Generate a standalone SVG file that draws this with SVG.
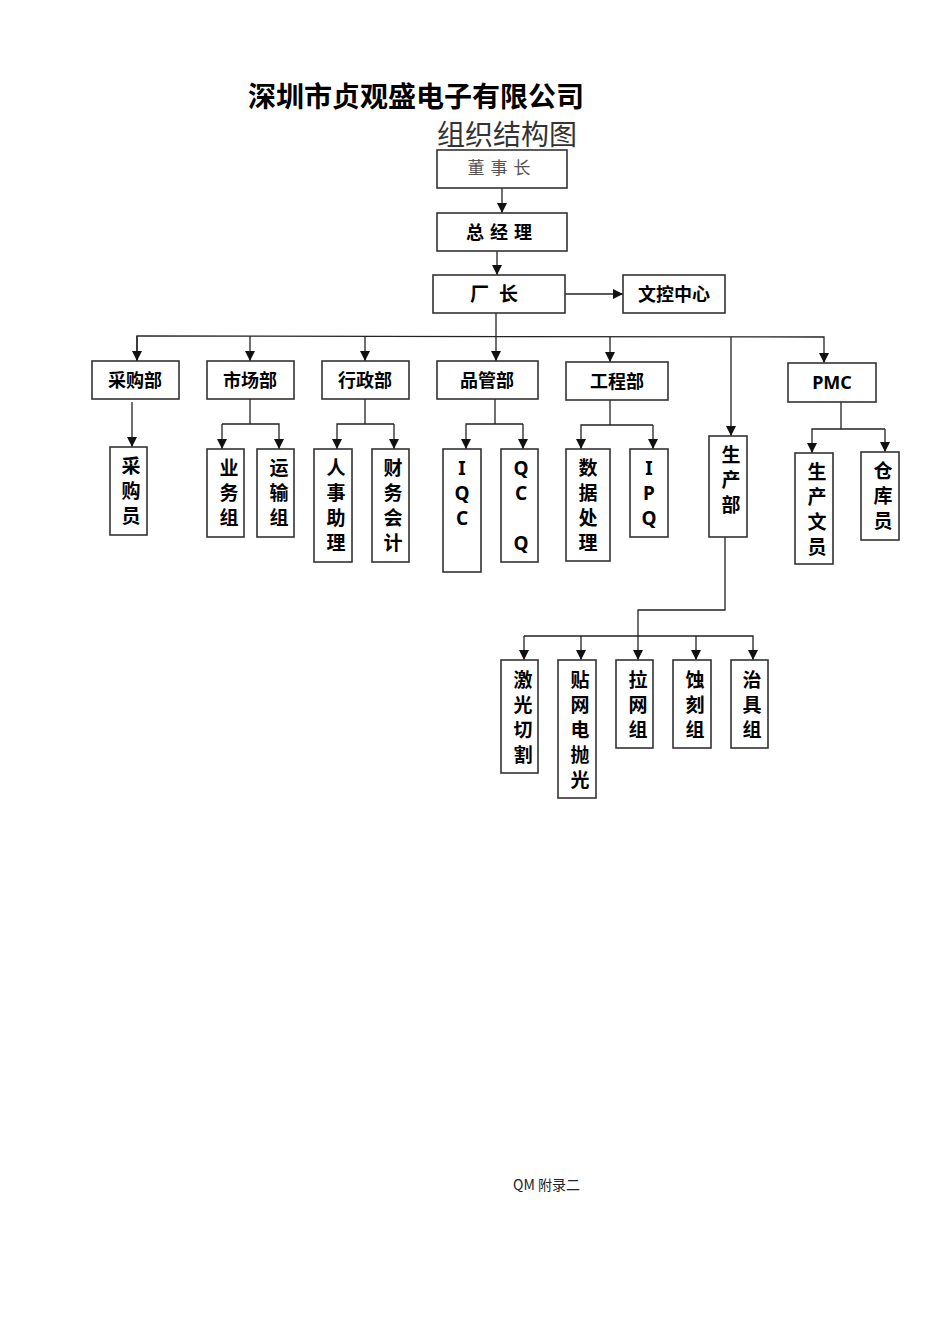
<svg xmlns="http://www.w3.org/2000/svg" width="950" height="1344" viewBox="0 0 950 1344">
<style>
rect{fill:#fff;stroke:#333;stroke-width:1.6}
.c line,.c polyline{stroke:#222;stroke-width:1.3;fill:none}
text{font-family:"Noto Sans CJK SC","Liberation Sans",sans-serif;font-weight:bold;fill:#000}
.h{font-size:18px;text-anchor:middle}
.v{font-size:19px;text-anchor:middle}
</style>
<defs><marker id="a" markerWidth="10" markerHeight="10" refX="10" refY="5" orient="auto" markerUnits="userSpaceOnUse" viewBox="0 0 10 10"><path d="M0,0L10,5L0,10z" fill="#111"/></marker></defs>
<text x="248" y="107" style="font-size:28px">深圳市贞观盛电子有限公司</text>
<text x="437" y="145" style="font-size:28px;font-weight:normal;font-family:'Noto Sans CJK SC',serif;fill:#333">组织结构图</text>
<g class="c">
<line x1="502" y1="188" x2="502" y2="213" marker-end="url(#a)"/>
<line x1="497" y1="251" x2="497" y2="275" marker-end="url(#a)"/>
<line x1="565" y1="294" x2="623" y2="294" marker-end="url(#a)"/>
<line x1="496" y1="313" x2="496" y2="361" marker-end="url(#a)"/>
<polyline points="137,361 137,336 824,337 824,363" marker-end="url(#a)"/>
<line x1="137" y1="336" x2="137" y2="361" marker-end="url(#a)"/>
<line x1="250" y1="336" x2="250" y2="361" marker-end="url(#a)"/>
<line x1="365" y1="336" x2="365" y2="361" marker-end="url(#a)"/>
<line x1="610" y1="337" x2="610" y2="362" marker-end="url(#a)"/>
<line x1="731" y1="337" x2="731" y2="436" marker-end="url(#a)"/>
<line x1="132" y1="402" x2="132" y2="447" marker-end="url(#a)"/>
<line x1="250" y1="399" x2="250" y2="424"/><polyline points="222,424 279,424 279,449" marker-end="url(#a)"/><line x1="222" y1="424" x2="222" y2="449" marker-end="url(#a)"/>
<line x1="365" y1="399" x2="365" y2="424"/><polyline points="394,424 337,424 337,449" marker-end="url(#a)"/><line x1="394" y1="424" x2="394" y2="449" marker-end="url(#a)"/>
<line x1="495" y1="399" x2="495" y2="424"/><polyline points="523,424 466,424 466,449" marker-end="url(#a)"/><line x1="523" y1="424" x2="523" y2="449" marker-end="url(#a)"/>
<line x1="610" y1="400" x2="610" y2="425"/><polyline points="653,425 581,425 581,449" marker-end="url(#a)"/><line x1="653" y1="425" x2="653" y2="449" marker-end="url(#a)"/>
<line x1="841" y1="402" x2="841" y2="429"/><polyline points="885,429 812,429 812,453" marker-end="url(#a)"/><line x1="885" y1="429" x2="885" y2="452" marker-end="url(#a)"/>
<polyline points="725,537 725,610 638,610 638,660" marker-end="url(#a)"/>
<polyline points="524,636 753,636 753,660" marker-end="url(#a)"/><line x1="524" y1="636" x2="524" y2="660" marker-end="url(#a)"/>
<line x1="581" y1="636" x2="581" y2="660" marker-end="url(#a)"/>
<line x1="696" y1="636" x2="696" y2="660" marker-end="url(#a)"/>
</g>
<g id="dongshizhang"><rect x="437" y="150" width="130" height="38"/><text x="502" y="174" class="h" style="font-weight:normal;font-family:'Noto Sans CJK SC',serif;fill:#555;font-size:17px;letter-spacing:6px">董事长</text></g>
<g id="zongjingli"><rect x="437" y="213" width="130" height="38"/><text x="502" y="239" class="h" style="letter-spacing:6px">总经理</text></g>
<g id="changzhang"><rect x="433" y="275" width="132" height="38"/><text x="499" y="301" class="h" style="font-size:19px;letter-spacing:10px">厂长</text></g>
<g id="wenkong"><rect x="623" y="275" width="102" height="38"/><text x="674" y="301" class="h">文控中心</text></g>
<g id="caigoubu"><rect x="92" y="361" width="87" height="38"/><text x="135" y="387" class="h">采购部</text></g>
<g id="shichangbu"><rect x="207" y="361" width="87" height="38"/><text x="250" y="387" class="h">市场部</text></g>
<g id="xingzhengbu"><rect x="322" y="361" width="87" height="38"/><text x="365" y="387" class="h">行政部</text></g>
<g id="pinguanbu"><rect x="437" y="361" width="101" height="38"/><text x="487" y="387" class="h">品管部</text></g>
<g id="gongchengbu"><rect x="566" y="362" width="102" height="38"/><text x="617" y="388" class="h">工程部</text></g>
<g id="pmc"><rect x="788" y="363" width="88" height="39"/><text x="832" y="389" class="h" style="font-family:'Noto Sans','Liberation Sans',sans-serif">PMC</text></g>
<g id="shengchanbu"><rect x="709" y="436" width="38" height="101"/><text class="v" x="731"><tspan x="731" y="462">生</tspan><tspan x="731" y="487">产</tspan><tspan x="731" y="512">部</tspan></text></g>
<g id="caigouyuan"><rect x="110" y="447" width="37" height="88"/><text class="v"><tspan x="131" y="473">采</tspan><tspan x="131" y="498">购</tspan><tspan x="131" y="523">员</tspan></text></g>
<g id="yewuzu"><rect x="207" y="449" width="37" height="88"/><text class="v"><tspan x="229" y="475">业</tspan><tspan x="229" y="500">务</tspan><tspan x="229" y="525">组</tspan></text></g>
<g id="yunshuzu"><rect x="257" y="449" width="37" height="88"/><text class="v"><tspan x="279" y="475">运</tspan><tspan x="279" y="500">输</tspan><tspan x="279" y="525">组</tspan></text></g>
<g id="renshi"><rect x="314" y="449" width="38" height="113"/><text class="v"><tspan x="336" y="475">人</tspan><tspan x="336" y="500">事</tspan><tspan x="336" y="525">助</tspan><tspan x="336" y="550">理</tspan></text></g>
<g id="caiwu"><rect x="372" y="449" width="37" height="113"/><text class="v"><tspan x="393" y="475">财</tspan><tspan x="393" y="500">务</tspan><tspan x="393" y="525">会</tspan><tspan x="393" y="550">计</tspan></text></g>
<g id="iqc"><rect x="443" y="449" width="38" height="123"/><text class="v" style="font-family:'Noto Sans','Liberation Sans',sans-serif"><tspan x="462" y="475">I</tspan><tspan x="462" y="500">Q</tspan><tspan x="462" y="525">C</tspan></text></g>
<g id="qcq"><rect x="501" y="449" width="37" height="113"/><text class="v" style="font-family:'Noto Sans','Liberation Sans',sans-serif"><tspan x="521" y="475">Q</tspan><tspan x="521" y="500">C</tspan><tspan x="521" y="550">Q</tspan></text></g>
<g id="shuju"><rect x="566" y="449" width="44" height="112"/><text class="v"><tspan x="588" y="475">数</tspan><tspan x="588" y="500">据</tspan><tspan x="588" y="525">处</tspan><tspan x="588" y="550">理</tspan></text></g>
<g id="ipq"><rect x="630" y="449" width="38" height="88"/><text class="v" style="font-family:'Noto Sans','Liberation Sans',sans-serif"><tspan x="649" y="475">I</tspan><tspan x="649" y="500">P</tspan><tspan x="649" y="525">Q</tspan></text></g>
<g id="wenyuan"><rect x="795" y="453" width="38" height="111"/><text class="v"><tspan x="817" y="479">生</tspan><tspan x="817" y="504">产</tspan><tspan x="817" y="529">文</tspan><tspan x="817" y="554">员</tspan></text></g>
<g id="cangku"><rect x="861" y="452" width="38" height="88"/><text class="v"><tspan x="883" y="478">仓</tspan><tspan x="883" y="503">库</tspan><tspan x="883" y="528">员</tspan></text></g>
<g id="jiguang"><rect x="501" y="660" width="37" height="113"/><text class="v"><tspan x="523" y="687">激</tspan><tspan x="523" y="712">光</tspan><tspan x="523" y="737">切</tspan><tspan x="523" y="762">割</tspan></text></g>
<g id="tiewang"><rect x="558" y="660" width="38" height="138"/><text class="v"><tspan x="580" y="687">贴</tspan><tspan x="580" y="712">网</tspan><tspan x="580" y="737">电</tspan><tspan x="580" y="762">抛</tspan><tspan x="580" y="787">光</tspan></text></g>
<g id="lawang"><rect x="616" y="660" width="37" height="88"/><text class="v"><tspan x="638" y="687">拉</tspan><tspan x="638" y="712">网</tspan><tspan x="638" y="737">组</tspan></text></g>
<g id="shike"><rect x="673" y="660" width="38" height="88"/><text class="v"><tspan x="695" y="687">蚀</tspan><tspan x="695" y="712">刻</tspan><tspan x="695" y="737">组</tspan></text></g>
<g id="zhiju"><rect x="731" y="660" width="37" height="88"/><text class="v"><tspan x="752" y="687">治</tspan><tspan x="752" y="712">具</tspan><tspan x="752" y="737">组</tspan></text></g>
<text x="513" y="1190" style="font-size:14px;font-weight:normal;fill:#222">QM 附录二</text>
</svg>
